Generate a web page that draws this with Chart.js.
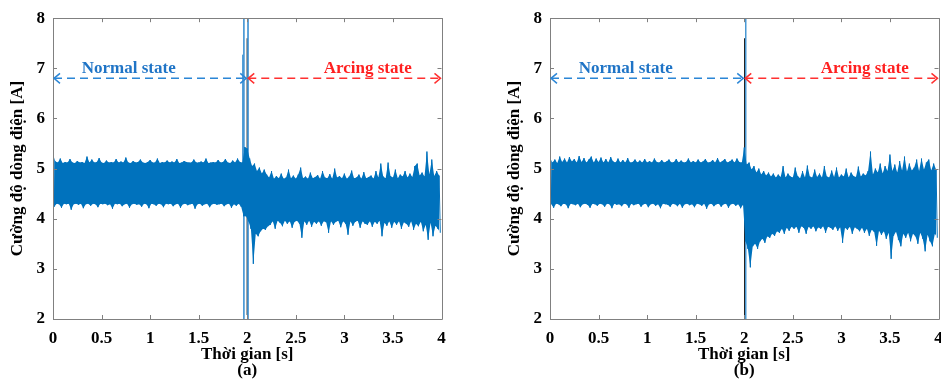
<!DOCTYPE html>
<html>
<head>
<meta charset="utf-8">
<script src="https://cdn.jsdelivr.net/npm/chart.js@4.4.1/dist/chart.umd.min.js"></script>
<style>
  body { margin: 0; background: #fff; width: 941px; height: 379px; overflow: hidden; position: relative; }
  .panel { position: absolute; top: 0; width: 446px; height: 379px; }
</style>
</head>
<body>
<div class="panel" style="left:0px"><canvas id="chartA"></canvas></div>
<div class="panel" style="left:497px"><canvas id="chartB"></canvas></div>
<script>
// sampling step of the envelope bins (s)
const binStep = 0.025;

// panel (a): max / min of the current in each bin [A]
const hiA = [
  5.28, 5.14, 5.12, 5.20, 5.11, 5.13, 5.12, 5.19, 5.12, 5.11,
  5.15, 5.12, 5.13, 5.11, 5.24, 5.12, 5.18, 5.12, 5.13, 5.21,
  5.12, 5.11, 5.16, 5.12, 5.13, 5.12, 5.19, 5.12, 5.14, 5.12,
  5.22, 5.12, 5.11, 5.15, 5.12, 5.13, 5.18, 5.12, 5.11, 5.13,
  5.17, 5.12, 5.12, 5.20, 5.11, 5.13, 5.12, 5.16, 5.12, 5.14,
  5.12, 5.19, 5.11, 5.12, 5.15, 5.13, 5.12, 5.12, 5.18, 5.12,
  5.12, 5.14, 5.12, 5.20, 5.11, 5.12, 5.13, 5.12, 5.17, 5.12,
  5.13, 5.19, 5.12, 5.11, 5.16, 5.12, 5.20, 5.13, 5.12,
  5.43, 5.40, 5.20, 5.05, 5.10, 4.95, 5.02, 4.90, 4.98, 4.88,
  4.82, 4.95, 4.80, 4.85, 4.81, 4.90, 4.80, 4.82, 4.98, 4.81, 4.86,
  4.80, 4.88, 5.02, 4.81, 4.84, 4.80, 4.92, 4.81, 4.83, 4.87,
  4.80, 4.95, 4.82, 4.81, 4.89, 4.80, 5.00, 4.82, 4.85, 4.81,
  4.90, 4.80, 4.84, 4.96, 4.81, 4.82, 4.88, 4.80, 4.93, 4.81,
  4.83, 4.86, 4.80, 4.95, 4.82, 5.10, 4.84, 4.81, 5.12, 4.85,
  4.82, 4.98, 4.81, 4.88, 4.84, 4.95, 4.82, 4.90, 4.83, 5.05,
  5.10, 4.86, 4.92, 4.84, 5.34, 4.88, 5.18, 4.85, 4.95, 4.86
];
const loA = [
  4.24, 4.30, 4.29, 4.22, 4.30, 4.29, 4.30, 4.18, 4.29, 4.30,
  4.28, 4.30, 4.21, 4.29, 4.30, 4.26, 4.30, 4.29, 4.23, 4.30,
  4.29, 4.30, 4.27, 4.29, 4.20, 4.30, 4.29, 4.30, 4.25, 4.29,
  4.30, 4.22, 4.29, 4.30, 4.28, 4.29, 4.24, 4.30, 4.29, 4.21,
  4.30, 4.29, 4.26, 4.30, 4.29, 4.23, 4.30, 4.29, 4.30, 4.25,
  4.29, 4.30, 4.22, 4.29, 4.30, 4.27, 4.29, 4.30, 4.20, 4.29,
  4.30, 4.26, 4.29, 4.30, 4.23, 4.29, 4.30, 4.28, 4.29, 4.30,
  4.25, 4.29, 4.30, 4.22, 4.29, 4.26, 4.30, 4.24, 4.05,
  4.05, 3.95, 3.80, 3.10, 3.70, 3.65, 3.75, 3.80, 3.78, 3.85,
  3.88, 3.95, 3.80, 3.96, 3.92, 3.85, 3.96, 3.90, 3.95, 3.82, 3.94,
  3.96, 3.90, 3.62, 3.95, 3.88, 3.96, 3.84, 3.94, 3.90, 3.95,
  3.86, 3.95, 3.93, 3.72, 3.95, 3.88, 3.94, 3.96, 3.83, 3.95,
  3.90, 3.68, 3.95, 3.86, 3.94, 3.96, 3.82, 3.95, 3.90, 3.88,
  3.95, 3.84, 3.94, 3.90, 3.96, 3.65, 3.92, 3.86, 3.95, 3.82,
  3.94, 3.88, 3.95, 3.80, 3.93, 3.90, 3.84, 3.95, 3.78, 3.90,
  3.85, 3.94, 3.75, 3.88, 3.58, 3.92, 3.65, 3.86, 3.80, 3.72
];

// panel (b)
const hiB = [
  5.22, 5.12, 5.18, 5.11, 5.24, 5.13, 5.20, 5.12, 5.23, 5.14,
  5.19, 5.12, 5.25, 5.13, 5.21, 5.12, 5.18, 5.24, 5.12, 5.20,
  5.13, 5.22, 5.12, 5.19, 5.12, 5.23, 5.14, 5.12, 5.20, 5.12,
  5.17, 5.12, 5.21, 5.12, 5.13, 5.18, 5.12, 5.16, 5.12, 5.19,
  5.12, 5.15, 5.12, 5.20, 5.13, 5.12, 5.17, 5.12, 5.14, 5.18,
  5.12, 5.13, 5.19, 5.12, 5.16, 5.12, 5.13, 5.20, 5.12, 5.15,
  5.12, 5.18, 5.12, 5.14, 5.19, 5.12, 5.13, 5.17, 5.12, 5.21,
  5.12, 5.15, 5.19, 5.12, 5.14, 5.18, 5.12, 5.20, 5.13,
  5.12,
  5.42, 5.08, 5.12, 4.98, 5.05, 4.92, 5.00, 4.88, 4.95, 4.86,
  4.92, 4.84, 4.90, 4.82, 4.88, 4.83, 5.05, 4.82, 4.90, 4.84,
  4.82, 5.02, 4.85, 4.81, 4.95, 4.82, 5.06, 4.84, 4.82, 4.98,
  4.83, 4.90, 4.82, 5.05, 4.84, 4.82, 4.96, 4.83, 5.02, 4.82,
  4.88, 4.84, 5.00, 4.82, 4.92, 4.85, 4.83, 5.04, 4.84, 4.90,
  4.86, 4.95, 5.34, 4.88, 5.00, 4.92, 5.10, 4.90, 5.05, 4.95,
  5.28, 4.95, 5.08, 4.92, 5.15, 4.96, 5.24, 4.94, 5.10, 4.96,
  5.02, 5.18, 4.95, 5.20, 4.98, 5.12, 5.18, 4.96, 5.10, 4.98
];
const loB = [
  4.29, 4.22, 4.30, 4.29, 4.25, 4.30, 4.29, 4.21, 4.30, 4.29,
  4.27, 4.30, 4.23, 4.29, 4.30, 4.28, 4.22, 4.30, 4.29, 4.26,
  4.30, 4.29, 4.24, 4.30, 4.29, 4.21, 4.30, 4.28, 4.29, 4.25,
  4.30, 4.29, 4.22, 4.30, 4.27, 4.29, 4.30, 4.24, 4.29, 4.30,
  4.23, 4.29, 4.30, 4.26, 4.29, 4.21, 4.30, 4.29, 4.28, 4.24,
  4.30, 4.29, 4.25, 4.30, 4.22, 4.29, 4.30, 4.27, 4.29, 4.23,
  4.30, 4.29, 4.26, 4.30, 4.20, 4.29, 4.30, 4.25, 4.29, 4.30,
  4.24, 4.29, 4.30, 4.22, 4.29, 4.30, 4.26, 4.29, 4.21,
  4.28,
  3.55, 3.40, 3.03, 3.45, 3.50, 3.40, 3.55, 3.60, 3.52, 3.65,
  3.62, 3.70, 3.66, 3.75, 3.72, 3.80, 3.70, 3.82, 3.76, 3.84,
  3.80, 3.84, 3.72, 3.85, 3.82, 3.70, 3.84, 3.80, 3.85, 3.75,
  3.83, 3.80, 3.85, 3.72, 3.84, 3.82, 3.78, 3.85, 3.76, 3.83,
  3.52, 3.82, 3.78, 3.84, 3.70, 3.83, 3.80, 3.75, 3.82, 3.72,
  3.80, 3.66, 3.78, 3.74, 3.46, 3.76, 3.68, 3.75, 3.60, 3.72,
  3.20, 3.66, 3.74, 3.58, 3.45, 3.70, 3.62, 3.72, 3.55, 3.70,
  3.65, 3.50, 3.72, 3.60, 3.35, 3.68, 3.55, 3.45, 3.70, 3.62
];

// single-sample transients that leave the axis range
const spikeTimeA = [1.955, 1.965, 2.008];
const spikeHiA = [7.27, 8.6, 8.6];
const spikeLoA = [4.30, 1.4, 1.4];
const spikeTimeB = [2.015];
const spikeHiB = [8.6];
const spikeLoB = [1.4];

// black marker at the switching instant
const markerTimeA = 2.0;
const markerRangeA = [7.6, 2.08];
const markerTimeB = 2.005;
const markerRangeB = [7.6, 2.02];

// state annotations
const stateNames = ['Normal state', 'Arcing state'];
const stateFrom = [0, 2];
const stateTo = [2, 4];
const arrowLevel = 6.8;

const xTicks = [0, 0.5, 1, 1.5, 2, 2.5, 3, 3.5, 4];
const yTicks = [2, 3, 4, 5, 6, 7, 8];

const serif = "'Liberation Serif', 'Times New Roman', serif";
const labelFont = { family: serif, size: 17, weight: 'bold' };
const stateLabelPos = [{ x: 0.78, y: 7.0 }, { x: 3.24, y: 7.0 }];
const arrowColors = ['#2b86d6', '#ff3030'];
const textColors = ['#1f74c6', '#ff1f1f'];
const traceColor = '#0072BD';

const boxPlugin = {
    id: 'boxPlugin',
    afterDatasetsDraw(chart) {
        const { ctx, chartArea: a, scales: { x, y } } = chart;
        ctx.save();
        // frame with inward ticks
        ctx.strokeStyle = '#808080';
        ctx.lineWidth = 1;
        ctx.beginPath();
        ctx.rect(Math.round(a.left) + 0.5, Math.round(a.top) + 0.5,
            Math.round(a.right - a.left), Math.round(a.bottom - a.top));
        xTicks.forEach(v => {
            const px = Math.round(x.getPixelForValue(v)) + 0.5;
            ctx.moveTo(px, a.bottom); ctx.lineTo(px, a.bottom - 4);
            ctx.moveTo(px, a.top); ctx.lineTo(px, a.top + 4);
        });
        yTicks.forEach(v => {
            const py = Math.round(y.getPixelForValue(v)) + 0.5;
            ctx.moveTo(a.left, py); ctx.lineTo(a.left + 4, py);
            ctx.moveTo(a.right, py); ctx.lineTo(a.right - 4, py);
        });
        ctx.stroke();

        // double-headed dashed arrows for each state
        const py = y.getPixelForValue(arrowLevel);
        stateNames.forEach((name, i) => {
            const x0 = x.getPixelForValue(stateFrom[i]);
            const x1 = x.getPixelForValue(stateTo[i]);
            ctx.strokeStyle = arrowColors[i];
            ctx.lineWidth = 1.5;
            ctx.setLineDash([8, 5]);
            ctx.beginPath();
            ctx.moveTo(x0 + 1, py); ctx.lineTo(x1 - 1, py);
            ctx.stroke();
            ctx.setLineDash([]);
            ctx.beginPath();
            ctx.moveTo(x0 + 7, py - 5); ctx.lineTo(x0 + 1, py); ctx.lineTo(x0 + 7, py + 5);
            ctx.moveTo(x1 - 7, py - 5); ctx.lineTo(x1 - 1, py); ctx.lineTo(x1 - 7, py + 5);
            ctx.stroke();

            ctx.fillStyle = textColors[i];
            ctx.font = 'bold 17px ' + serif;
            ctx.textAlign = 'center';
            ctx.textBaseline = 'middle';
            ctx.fillText(name, x.getPixelForValue(stateLabelPos[i].x), y.getPixelForValue(stateLabelPos[i].y));
        });
        ctx.restore();
    }
};

function makePanel(id, hi, lo, spikeT, spikeHi, spikeLo, markT, markRange, caption) {
    // max/min alternating samples, like a dense raw trace
    const trace = [];
    hi.forEach((h, i) => {
        const t = i * binStep;
        trace.push({ x: t, y: h });
        trace.push({ x: t + binStep / 2, y: lo[i] });
    });
    // envelope edges, filled between them so the core is solid
    const upper = hi.map((h, i) => ({ x: i * binStep, y: h }));
    const lower = lo.map((l, i) => ({ x: i * binStep + binStep / 2, y: l }));
    const spikes = [];
    spikeT.forEach((t, i) => {
        spikes.push({ x: t, y: spikeHi[i] }, { x: t, y: spikeLo[i] }, { x: t, y: null });
    });
    const marker = markRange.map(v => ({ x: markT, y: v }));

    return new Chart(document.getElementById(id), {
        type: 'line',
        data: {
            datasets: [
                { data: upper, borderWidth: 0, pointRadius: 0, fill: '+1', backgroundColor: traceColor },
                { data: lower, borderWidth: 0, pointRadius: 0, fill: false },
                { data: trace, borderColor: traceColor, borderWidth: 1, pointRadius: 0, tension: 0, fill: false },
                { data: spikes, borderColor: '#4a98d4', borderWidth: 1, pointRadius: 0, spanGaps: false, fill: false },
                { data: marker, borderColor: '#000000', borderWidth: 1.2, pointRadius: 0, fill: false }
            ]
        },
        options: {
            responsive: true,
            maintainAspectRatio: false,
            animation: false,
            devicePixelRatio: 1,
            layout: { padding: { top: 15, left: 0, right: 0, bottom: 0 } },
            plugins: { legend: { display: false }, tooltip: { enabled: false } },
            scales: {
                x: {
                    type: 'linear', min: 0, max: 4,
                    afterBuildTicks: s => { s.ticks = xTicks.map(v => ({ value: v })); },
                    ticks: { color: '#000', font: labelFont, padding: 9, maxRotation: 0, autoSkip: false,
                             callback: v => String(v) },
                    grid: { display: false, drawTicks: false },
                    border: { display: false },
                    title: {
                        display: true, text: ['Thời gian [s]', caption], color: '#000',
                        font: { family: serif, size: 17, weight: 'bold', lineHeight: 0.95 },
                        padding: { top: 0, bottom: 0 }
                    },
                    afterFit: s => { s.height = 60; s.paddingLeft = 4; s.paddingRight = 4.5; }
                },
                y: {
                    min: 2, max: 8,
                    afterBuildTicks: s => { s.ticks = yTicks.map(v => ({ value: v })); },
                    ticks: { color: '#000', font: labelFont, padding: 8 },
                    grid: { display: false, drawTicks: false },
                    border: { display: false },
                    title: {
                        display: true, text: 'Cường độ dòng điện [A]', color: '#000',
                        font: labelFont, padding: { top: 7, bottom: 0 }
                    },
                    afterFit: s => { s.width = 53; }
                }
            }
        },
        plugins: [boxPlugin]
    });
}

makePanel('chartA', hiA, loA, spikeTimeA, spikeHiA, spikeLoA, markerTimeA, markerRangeA, '(a)');
makePanel('chartB', hiB, loB, spikeTimeB, spikeHiB, spikeLoB, markerTimeB, markerRangeB, '(b)');
</script>
</body>
</html>
